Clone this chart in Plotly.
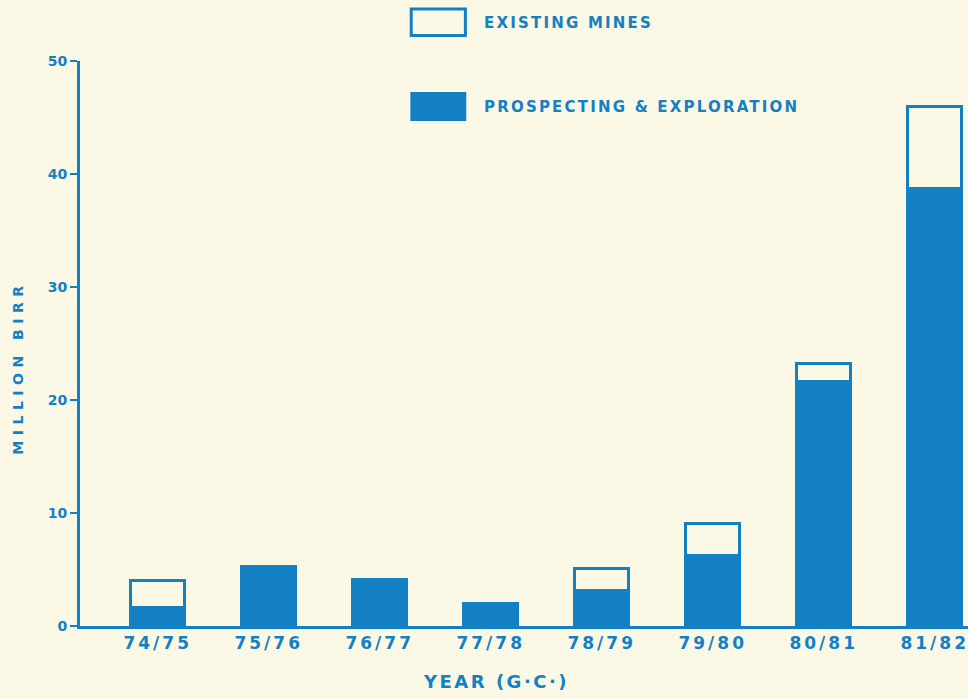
import plotly.graph_objects as go

categories = ["74/75", "75/76", "76/77", "77/78", "78/79", "79/80", "80/81", "81/82"]
prospecting = [1.6, 5.3, 4.1, 2.0, 3.1, 6.2, 21.6, 38.7]
existing = [2.4, 0.0, 0.0, 0.0, 2.0, 2.9, 1.6, 7.3]
y_ticks = [0, 10, 20, 30, 40, 50]

BLUE = "#1480C4"
BG = "#FBF8E6"
FONT = "DejaVu Sans"


def spaced(t, px=3):
    return f'<span style="letter-spacing:{px}px">{t}</span>'


fig = go.Figure()
fig.add_trace(go.Bar(
    x=categories, y=prospecting, name="PROSPECTING & EXPLORATION",
    marker=dict(color=BLUE, line=dict(color=BLUE, width=3)), width=0.49,
))
fig.add_trace(go.Bar(
    x=categories, y=existing, name="EXISTING MINES",
    marker=dict(color=BG, line=dict(color=BLUE, width=3)), width=0.49,
))

fig.update_layout(
    barmode="stack",
    width=968, height=699,
    paper_bgcolor=BG, plot_bgcolor=BG,
    margin=dict(l=80, r=0, t=61, b=73),
    showlegend=False,
    font=dict(family=FONT, color=BLUE, weight="bold"),
)
fig.update_xaxes(
    range=[-0.7, 7.3],
    tickvals=categories,
    ticktext=[spaced(c, 3) for c in categories],
    tickfont=dict(size=17, family=FONT, color=BLUE, weight="bold"),
    showline=True, linecolor=BLUE, linewidth=3,
    showgrid=False, zeroline=False, ticks="",
)
fig.update_yaxes(
    range=[0, 50],
    tickvals=y_ticks,
    tickfont=dict(size=14, family=FONT, color=BLUE, weight="bold"),
    showline=True, linecolor=BLUE, linewidth=3,
    showgrid=False, zeroline=False,
    ticks="outside", ticklen=7, tickwidth=2, tickcolor=BLUE,
)

# legend drawn as shapes + text
fig.add_shape(type="rect", xref="paper", yref="paper",
              x0=0.373, x1=0.434, y0=1.045, y1=1.092,
              line=dict(color=BLUE, width=3), fillcolor=BG)
fig.add_shape(type="rect", xref="paper", yref="paper",
              x0=0.372, x1=0.435, y0=0.894, y1=0.945,
              line=dict(color=BLUE, width=0), fillcolor=BLUE)
fig.add_annotation(xref="paper", yref="paper", x=0.453, y=1.068,
                   xanchor="left", yanchor="middle", showarrow=False,
                   text=spaced("EXISTING MINES", 2.2),
                   font=dict(size=15, family=FONT, color=BLUE, weight="bold"))
fig.add_annotation(xref="paper", yref="paper", x=0.453, y=0.918,
                   xanchor="left", yanchor="middle", showarrow=False,
                   text=spaced("PROSPECTING & EXPLORATION", 2.2),
                   font=dict(size=15, family=FONT, color=BLUE, weight="bold"))

# axis titles
fig.add_annotation(xref="paper", yref="paper", x=-0.07, y=0.457,
                   xanchor="center", yanchor="middle", showarrow=False,
                   textangle=-90, text=spaced("MILLION BIRR", 5.5),
                   font=dict(size=14, family=FONT, color=BLUE, weight="bold"))
fig.add_annotation(xref="paper", yref="paper", x=0.468, y=-0.099,
                   xanchor="center", yanchor="middle", showarrow=False,
                   text=spaced("YEAR (G·C·)", 2.5),
                   font=dict(size=18, family=FONT, color=BLUE, weight="bold"))

fig.write_html(
    "out.html",
    config={"displayModeBar": False},
    post_script="document.body.style.margin='0';document.body.style.background='#FBF8E6';",
)
